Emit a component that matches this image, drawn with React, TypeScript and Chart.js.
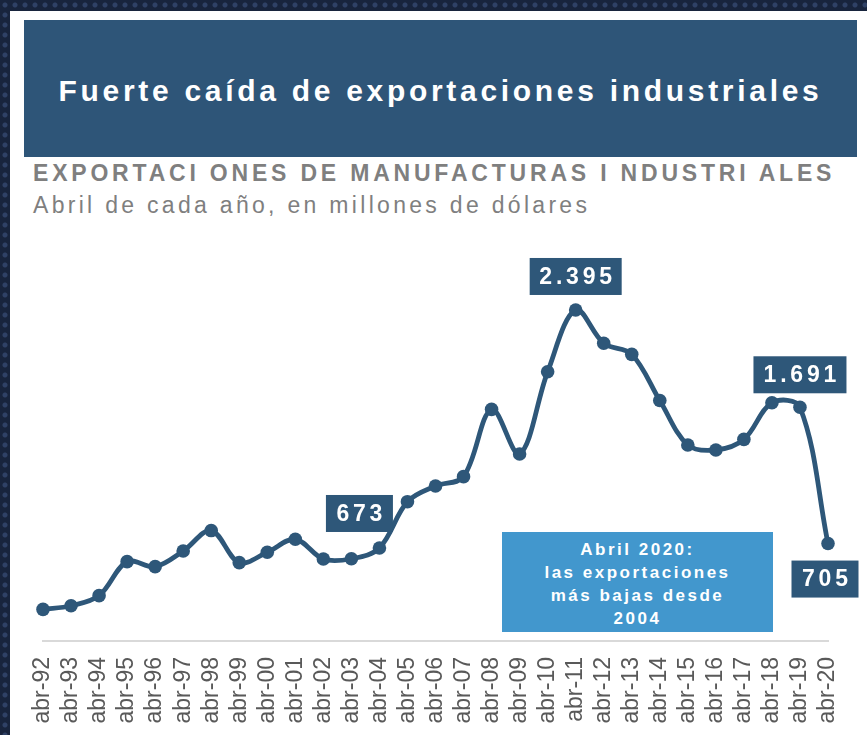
import React, { useEffect, useRef } from "react";
import { Chart, registerables } from "chart.js";

Chart.register(...registerables);

const categories = [
  "abr-92", "abr-93", "abr-94", "abr-95", "abr-96", "abr-97", "abr-98", "abr-99",
  "abr-00", "abr-01", "abr-02", "abr-03", "abr-04", "abr-05", "abr-06", "abr-07",
  "abr-08", "abr-09", "abr-10", "abr-11", "abr-12", "abr-13", "abr-14", "abr-15",
  "abr-16", "abr-17", "abr-18", "abr-19", "abr-20",
];

const exportValues = [
  229, 255, 328, 574, 538, 651, 799, 567,
  642, 736, 593, 595, 673, 1008, 1121, 1189,
  1676, 1353, 1948, 2395, 2154, 2074, 1740, 1418,
  1382, 1459, 1724, 1691, 705,
];

const calloutIndices = [19, 12, 27, 28];

const annotationLines = ["Abril 2020:", "las exportaciones", "más bajas desde", "2004"];

const titleText = "Fuerte caída de exportaciones industriales";
const subtitleText = "EXPORTACI ONES DE MANUFACTURAS I NDUSTRI ALES";
const subtitle2Text = "Abril de cada año, en millones de dólares";

const NAVY = "#2E5779";

function formatThousands(v: number): string {
  const s = String(Math.round(v));
  return s.replace(/\B(?=(\d{3})+(?!\d))/g, ".");
}

// placement of each callout box relative to its point
const calloutPlacement: Record<number, { w: number; dx: number; gap: number; above: boolean }> = {
  19: { w: 92, dx: 0, gap: 15, above: true },
  12: { w: 67, dx: -20, gap: 16, above: true },
  27: { w: 93, dx: 0, gap: 14, above: true },
  28: { w: 67, dx: -3, gap: 17, above: false },
};

const calloutPlugin = {
  id: "callouts",
  afterDatasetsDraw(chart: any) {
    const ctx = chart.ctx as CanvasRenderingContext2D;
    const meta = chart.getDatasetMeta(0);
    const h = 37;
    ctx.save();
    calloutIndices.forEach((idx) => {
      const el = meta.data[idx];
      if (!el) return;
      const p = calloutPlacement[idx];
      const cx = el.x + p.dx;
      const top = p.above ? el.y - p.gap - h : el.y + p.gap;
      ctx.fillStyle = NAVY;
      ctx.fillRect(cx - p.w / 2, top, p.w, h);
      ctx.fillStyle = "#FFFFFF";
      ctx.font = "bold 23px 'Liberation Sans', Arial, sans-serif";
      const ls = 3.8;
      (ctx as any).letterSpacing = ls + "px";
      ctx.textAlign = "center";
      ctx.textBaseline = "middle";
      ctx.fillText(formatThousands(exportValues[idx]), cx + ls / 2, top + h / 2 + 1);
    });
    ctx.restore();
  },
};

export default function App() {
  const canvasRef = useRef<HTMLCanvasElement | null>(null);

  useEffect(() => {
    document.body.style.margin = "0";
    const canvas = canvasRef.current;
    if (!canvas) return;
    const chart = new Chart(canvas, {
      type: "line",
      data: {
        labels: categories,
        datasets: [
          {
            data: exportValues,
            borderColor: NAVY,
            backgroundColor: NAVY,
            borderWidth: 4.8,
            pointRadius: 6.8,
            pointBackgroundColor: NAVY,
            pointBorderWidth: 0,
            tension: 0.35,
            clip: false as any,
            fill: false,
          },
        ],
      },
      options: {
        responsive: false,
        animation: false,
        layout: { padding: { left: 43, right: 39, top: 254, bottom: 0 } },
        plugins: {
          legend: { display: false },
          tooltip: { enabled: false },
          title: { display: false },
        },
        scales: {
          x: {
            offset: false,
            grid: { display: false, drawTicks: false },
            border: { display: true, color: "#D9D9D9", width: 2 },
            ticks: {
              autoSkip: false,
              minRotation: 90,
              maxRotation: 90,
              padding: 16,
              color: "#595959",
              font: { family: "'Liberation Sans', Arial, sans-serif", size: 23 },
            },
            afterFit: (scale: any) => {
              scale.height = 94;
              scale.paddingLeft = 0;
              scale.paddingRight = 0;
            },
          },
          y: {
            display: false,
            min: 0,
            max: 2800,
          },
        },
      },
      plugins: [calloutPlugin],
    });
    return () => chart.destroy();
  }, []);

  return (
    <div
      style={{
        position: "relative",
        width: 867,
        height: 735,
        overflow: "hidden",
        backgroundColor: "#18243D",
        backgroundImage: "radial-gradient(circle, #2F4166 2px, rgba(0,0,0,0) 3px)",
        backgroundSize: "10px 10px",
        fontFamily: "'Liberation Sans', Arial, sans-serif",
      }}
    >
      <div style={{ position: "absolute", left: 10, top: 11, right: 0, bottom: 0, background: "#FFFFFF" }} />
      <div style={{ position: "absolute", left: 24, top: 20, width: 833, height: 137, background: "#2E5578" }} />
      <div
        style={{
          position: "absolute",
          left: 24,
          top: 76,
          width: 833,
          textAlign: "center",
          color: "#FFFFFF",
          fontWeight: "bold",
          fontSize: 30,
          lineHeight: "30px",
          letterSpacing: "3.7px",
          whiteSpace: "nowrap",
        }}
      >
        {titleText}
      </div>
      <div
        style={{
          position: "absolute",
          left: 33,
          top: 162,
          color: "#7F7F7F",
          fontWeight: "bold",
          fontSize: 23,
          lineHeight: "23px",
          letterSpacing: "3.8px",
          whiteSpace: "nowrap",
        }}
      >
        {subtitleText}
      </div>
      <div
        style={{
          position: "absolute",
          left: 33,
          top: 194,
          color: "#7F7F7F",
          fontSize: 23,
          lineHeight: "23px",
          letterSpacing: "3.3px",
          whiteSpace: "nowrap",
        }}
      >
        {subtitle2Text}
      </div>
      <canvas
        ref={canvasRef}
        width={867}
        height={735}
        style={{ position: "absolute", left: 0, top: 0, width: 867, height: 735 }}
      />
      <div
        style={{
          position: "absolute",
          left: 502,
          top: 532,
          width: 271,
          height: 100,
          boxSizing: "border-box",
          paddingTop: 6,
          background: "#4297CD",
          color: "#FFFFFF",
          fontWeight: "bold",
          fontSize: 17,
          lineHeight: "23px",
          letterSpacing: "2.5px",
          textAlign: "center",
        }}
      >
        {annotationLines.map((l, i) => (
          <div key={i}>{l}</div>
        ))}
      </div>
    </div>
  );
}
